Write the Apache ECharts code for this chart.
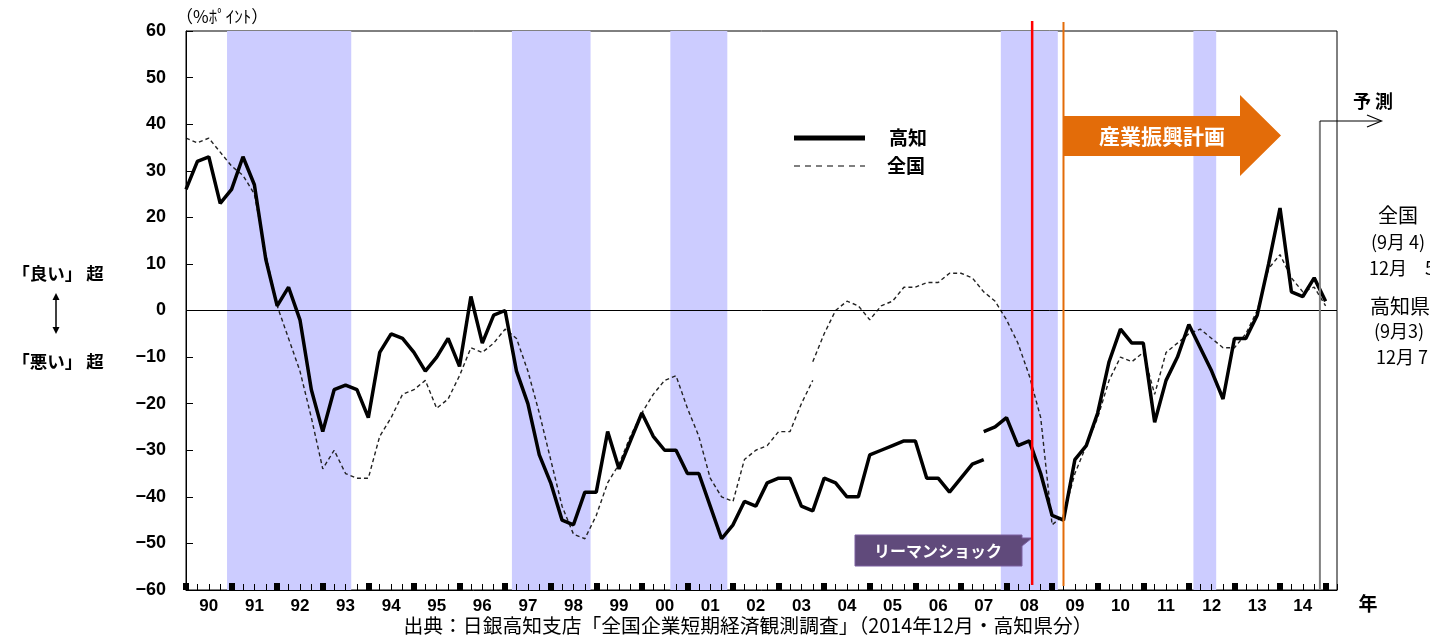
<!DOCTYPE html>
<html><head><meta charset="utf-8">
<script src="https://cdn.jsdelivr.net/npm/echarts@6/dist/echarts.min.js"></script>
<style>html,body{margin:0;padding:0;background:#fff;}#c{width:1430px;height:641px;}</style>
</head><body><div id="c"></div>
<script>
// Quarterly index: 0 = Mar 1990 ... 99 = Dec 2014, 100 = Mar 2015 (forecast)
const yearLabels = ['90','91','92','93','94','95','96','97','98','99','00','01','02','03','04','05','06','07','08','09','10','11','12','13','14'];
const yTicks = [-60,-50,-40,-30,-20,-10,0,10,20,30,40,50,60];

const kochiOldStart = 0;
const kochiOld = [26,32,33,23,26,33,27,11,1,5,
  -2,-17,-26,-17,-16,-17,-23,-9,-5,-6,
  -9,-13,-10,-6,-12,3,-7,-1,0,-13,
  -20,-31,-37,-45,-46,-39,-39,-26,-34,-28,
  -22,-27,-30,-30,-35,-35,-42,-49,-46,-41,
  -42,-37,-36,-36,-42,-43,-36,-37,-40,-40,
  -31,-30,-29,-28,-28,-36,-36,-39,-36,-33,
  -32];
const kochiNewStart = 70;
const kochiNew = [-26,-25,-23,-29,-28,-35,-44,-45,-32,-29,
  -22,-11,-4,-7,-7,-24,-15,-10,-3,-8,
  -13,-19,-6,-6,-1,10,22,4,3,7,
  2];

const nationalOldStart = 0;
const nationalOld = [37,36,37,34,31,29,25,12,1,-6,
  -13,-23,-34,-30,-35,-36,-36,-27,-23,-18,
  -17,-15,-21,-19,-14,-8,-9,-7,-4,-6,
  -13,-22,-32,-42,-48,-49,-44,-37,-33,-27,
  -22,-18,-15,-14,-21,-27,-36,-40,-41,-32,
  -30,-29,-26,-26,-20,-15];
const nationalNewStart = 55;
const nationalNew = [-11,-5,0,2,1,
  -2,1,2,5,5,6,6,8,8,7,
  4,2,-2,-7,-14,-23,-46,-44,-35,-29,
  -23,-15,-10,-11,-9,-18,-9,-7,-5,-4,
  -6,-8,-8,-5,0,9,12,7,4,5,
  1];

// recession periods (quarter index ranges)
const recessionBands = [[3.6,14.5],[28.6,35.5],[42.5,47.5],[71.5,76.5],[88.4,90.4]];
const lehmanIndex = 74.25;
const planStartIndex = 77;
const forecastIndex = 99.5;

const toPairs = (arr, start) => arr.map((v, i) => [start + i, v]);

const chart = echarts.init(document.getElementById('c'));
const numFont = 'Liberation Sans, Arial, sans-serif';
const jpFont = 'Noto Sans CJK JP, sans-serif';

const solidStyle = {color:'#000', width:3.5};
const dashStyle = {color:'#222', width:1.4, type:[4,3]};

chart.setOption({
  animation:false,
  grid:{left:186, right:93, top:31, bottom:51, show:true, borderColor:'#000', borderWidth:1, backgroundColor:'transparent'},
  xAxis:[
    {type:'value', min:0, max:101, interval:1, z:10,
      axisLine:{show:true, onZero:false, lineStyle:{color:'#000', width:1}},
      axisTick:{show:true, inside:true, length:6, lineStyle:{color:'#000', width:1}},
      axisLabel:{show:false}, splitLine:{show:false}},
    {type:'value', min:0, max:101, position:'bottom', offset:0, z:10,
      axisLine:{show:false, onZero:false},
      axisTick:{show:true, inside:true, length:7, customValues: yearLabels.concat(['']).map((_, i) => i*4), lineStyle:{color:'#000', width:6}},
      axisLabel:{show:true, customValues: yearLabels.map((_, i) => i*4+2), margin:8,
        formatter: v => yearLabels[(v-2)/4], fontSize:17, fontWeight:'bold', color:'#000', fontFamily:numFont},
      splitLine:{show:false}}
  ],
  yAxis:{type:'value', min:-60, max:60, interval:10, z:10,
    axisLine:{show:true, onZero:false, lineStyle:{color:'#000', width:1}},
    axisTick:{show:true, inside:true, length:7, lineStyle:{color:'#000'}},
    axisLabel:{fontSize:18, fontWeight:'bold', color:'#000', margin:20, fontFamily:numFont,
      formatter: v => String(v).replace('-', '\u2212')},
    splitLine:{show:false}},
  series:[
    {type:'line', name:'bands', data:[], z:1, silent:true,
      markArea:{silent:true, itemStyle:{color:'#ccccff', opacity:1},
        data: recessionBands.map(b => [{xAxis:b[0]}, {xAxis:b[1]}])},
      markLine:{silent:true, symbol:['none','none'], label:{show:false},
        lineStyle:{color:'#000', width:1, type:'solid'}, data:[{yAxis:0}]}},
    {type:'line', name:'全国', data:toPairs(nationalOld, nationalOldStart), showSymbol:false, symbol:'none', lineStyle:dashStyle, z:3},
    {type:'line', name:'全国', data:toPairs(nationalNew, nationalNewStart), showSymbol:false, symbol:'none', lineStyle:dashStyle, z:3},
    {type:'line', name:'高知', data:toPairs(kochiOld, kochiOldStart), showSymbol:false, symbol:'none', lineStyle:solidStyle, z:4},
    {type:'line', name:'高知', data:toPairs(kochiNew, kochiNewStart), showSymbol:false, symbol:'none', lineStyle:solidStyle, z:4}
  ]
});

const px = v => chart.convertToPixel({xAxisIndex:0}, v);
const py = v => chart.convertToPixel({yAxisIndex:0}, v);
const xRed = px(lehmanIndex), xOrg = px(planStartIndex), xFc = px(forecastIndex);
const yBottom = py(-60), yTop = py(60);

const g = [];
g.push({type:'line', z:50, shape:{x1:xRed, y1:21, x2:xRed, y2:yBottom-5}, style:{stroke:'#ff0000', lineWidth:2.5}});
g.push({type:'line', z:50, shape:{x1:xOrg, y1:22, x2:xOrg, y2:yBottom-4}, style:{stroke:'#e36c09', lineWidth:2}});
g.push({type:'line', z:50, shape:{x1:xFc, y1:yBottom, x2:xFc, y2:121}, style:{stroke:'#808080', lineWidth:2}});
g.push({type:'polyline', z:50, shape:{points:[[xFc,121],[1381,121]]}, style:{stroke:'#000', lineWidth:1, fill:null}});
g.push({type:'polyline', z:50, shape:{points:[[1367,115],[1381.5,121],[1367,127]]}, style:{stroke:'#000', lineWidth:1.2, fill:null}});
g.push({type:'text', z:50, style:{text:'予 測', x:1373, y:101, fontSize:18, fontWeight:'bold', fontFamily:jpFont, fill:'#000', align:'center', verticalAlign:'middle'}});
g.push({type:'polygon', z:49, shape:{points:[[xOrg,116],[1240,116],[1240,95],[1281,135.5],[1240,176],[1240,156],[xOrg,156]]}, style:{fill:'#e36c09'}});
g.push({type:'text', z:51, style:{text:'産業振興計画', x:1162, y:136.5, fontSize:21, fontWeight:'bold', fontFamily:jpFont, fill:'#fff', align:'center', verticalAlign:'middle'}});
g.push({type:'polygon', z:49, shape:{points:[[855,535],[1022,535],[1022,538],[1032,538],[1022,546],[1022,566],[855,566]]}, style:{fill:'#604a7b', stroke:'#7a5fa0', lineWidth:1}});
g.push({type:'text', z:51, style:{text:'リーマンショック', x:938, y:550.5, fontSize:16, fontWeight:'bold', fontFamily:jpFont, fill:'#fff', align:'center', verticalAlign:'middle'}});
g.push({type:'line', z:50, shape:{x1:794, y1:138, x2:865, y2:138}, style:{stroke:'#000', lineWidth:5}});
g.push({type:'text', z:50, style:{text:'高知', x:889, y:138, fontSize:19, fontWeight:'bold', fontFamily:jpFont, fill:'#000', verticalAlign:'middle'}});
g.push({type:'line', z:50, shape:{x1:794, y1:166, x2:865, y2:166}, style:{stroke:'#000', lineWidth:1.2, lineDash:[6,5]}});
g.push({type:'text', z:50, style:{text:'全国', x:887, y:166, fontSize:19, fontWeight:'bold', fontFamily:jpFont, fill:'#000', verticalAlign:'middle'}});
g.push({type:'text', z:50, style:{text:'（%ﾎﾟｲﾝﾄ）', x:176, y:17, fontSize:17, fontFamily:jpFont, fill:'#000', verticalAlign:'middle'}});
g.push({type:'text', z:50, style:{text:'年', x:1368, y:604, fontSize:19, fontWeight:'bold', fontFamily:jpFont, fill:'#000', align:'center', verticalAlign:'middle'}});
g.push({type:'text', z:50, style:{text:'「良い」 超', x:58, y:273, fontSize:17.5, fontWeight:'bold', fontFamily:jpFont, fill:'#000', align:'center', verticalAlign:'middle'}});
g.push({type:'text', z:50, style:{text:'「悪い」 超', x:58, y:361, fontSize:17.5, fontWeight:'bold', fontFamily:jpFont, fill:'#000', align:'center', verticalAlign:'middle'}});
g.push({type:'line', z:50, shape:{x1:56, y1:296, x2:56, y2:331}, style:{stroke:'#000', lineWidth:1.5}});
g.push({type:'polygon', z:50, shape:{points:[[56,293],[52.5,300],[59.5,300]]}, style:{fill:'#000'}});
g.push({type:'polygon', z:50, shape:{points:[[56,334],[52.5,327],[59.5,327]]}, style:{fill:'#000'}});
const rt = (t, x, y, fs) => g.push({type:'text', z:50, style:{text:t, x:x, y:y, fontSize:fs, fontFamily:jpFont, fill:'#000', align:'center', verticalAlign:'middle'}});
rt('全国', 1398, 215, 20);
rt('(9月 4)', 1398, 242, 18);
rt('12月　5', 1402, 268, 18);
rt('高知県', 1400, 306, 20);
rt('(9月3)', 1399, 331, 18);
rt('12月 7', 1402, 357, 18);
g.push({type:'text', z:50, style:{text:'出典：日銀高知支店「全国企業短期経済観測調査」（2014年12月・高知県分）', x:748, y:625, fontSize:19.8, fontFamily:jpFont, fill:'#000', align:'center', verticalAlign:'middle'}});

chart.setOption({graphic:{elements:g}});
</script>
</body></html>
